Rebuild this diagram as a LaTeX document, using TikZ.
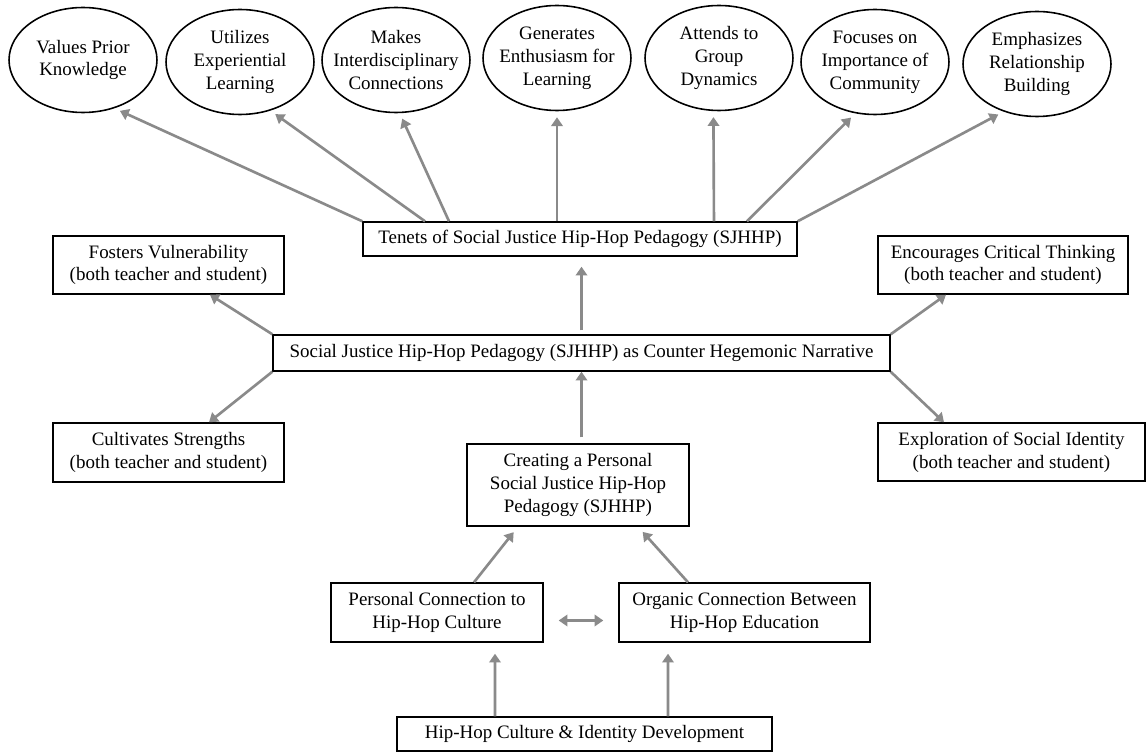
\documentclass[tikz,border=0pt]{standalone}
\usepackage{fontspec}
\setmainfont{Liberation Serif}
\usepackage{xcolor}
\usepackage{tikz}
\usetikzlibrary{shapes.geometric, arrows.meta, positioning}
\definecolor{linkgray}{RGB}{138,138,138}

\begin{document}
\begin{tikzpicture}[x=0.02cm, y=-0.02cm,
  >={Triangle[length=5pt,width=6.5pt]},
  tenet/.style={ellipse, draw, line width=0.9pt, minimum width=2.96cm, minimum height=2.1cm,
    inner xsep=-0.22cm, inner ysep=0pt, align=center, font=\fontsize{10.8}{13}\selectfont},
  box/.style={rectangle, draw, line width=0.8pt, inner sep=0pt, align=center,
    font=\fontsize{10.8}{13}\selectfont},
  link/.style={linkgray, line width=1.5pt, ->}]
\path[use as bounding box, fill=white] (0,0) rectangle (1147,753);

% Tenets
\node[tenet] (prior) at (83,60) {Values Prior\\Knowledge};
\node[tenet] (exper) at (240,62) {Utilizes\\Experiential\\Learning};
\node[tenet] (inter) at (396,60) {Makes\\Interdisciplinary\\Connections};
\node[tenet] (enthu) at (557,58) {Generates\\Enthusiasm for\\Learning};
\node[tenet] (group) at (719,58) {Attends to\\Group\\Dynamics};
\node[tenet] (commu) at (875,62) {Focuses on\\Importance of\\Community};
\node[tenet] (relat) at (1037,64) {Emphasizes\\Relationship\\Building};

\node[box, minimum width=8.68cm, minimum height=0.68cm] (tenets) at (580,239)
  {Tenets of Social Justice Hip-Hop Pedagogy (SJHHP)};

\draw[link, shorten >=0.12cm] (tenets.north west) -- (prior.-57);
\draw[link, shorten >=0.12cm] ([xshift=-3.1cm]tenets.north) -- (exper.-58);
\draw[link, shorten >=0.12cm] ([xshift=-2.62cm]tenets.north) -- (inter.-86);
\draw[link, shorten >=0.12cm] (tenets.north -| enthu) -- (enthu.south);
\draw[link, shorten >=0.12cm] ([xshift=2.68cm]tenets.north) -- (group.-96);
\draw[link, shorten >=0.12cm] ([xshift=3.34cm]tenets.north) -- (commu.-111);
\draw[link, shorten >=0.12cm] (tenets.north east) -- (relat.-125);

% Counter narrative
\node[box, minimum width=12.34cm, minimum height=0.72cm] (narr) at (581.5,353)
  {Social Justice Hip-Hop Pedagogy (SJHHP) as Counter Hegemonic Narrative};
\node[box, minimum width=4.62cm, minimum height=1.16cm] (fost) at (168.5,265)
  {Fosters Vulnerability\\(both teacher and student)};
\node[box, minimum width=5cm, minimum height=1.16cm] (enc) at (1003,265)
  {Encourages Critical Thinking\\(both teacher and student)};
\node[box, minimum width=4.62cm, minimum height=1.18cm] (cult) at (168.5,452.5)
  {Cultivates Strengths\\(both teacher and student)};
\node[box, minimum width=5.34cm, minimum height=1.16cm] (expl) at (1011.5,452)
  {Exploration of Social Identity\\(both teacher and student)};

\draw[link, shorten >=0.2cm, shorten <=0.08cm] (narr.north) -- (narr.north |- tenets.south);
\draw[link] (narr.north west) -- ([xshift=0.83cm]fost.south);
\draw[link] (narr.south west) -- ([xshift=0.81cm]cult.north);
\draw[link] (narr.north east) -- ([xshift=-1.14cm]enc.south);
\draw[link] (narr.south east) -- ([xshift=-1.35cm]expl.north);

% Personal SJHHP
\node[box, minimum width=4.44cm, minimum height=1.64cm] (creat) at (578,485)
  {Creating a Personal\\Social Justice Hip-Hop\\Pedagogy (SJHHP)};
\node[box, minimum width=4.24cm, minimum height=1.18cm] (pers) at (437,612.5)
  {Personal Connection to\\Hip-Hop Culture};
\node[box, minimum width=5.02cm, minimum height=1.18cm] (org) at (744.5,612.5)
  {Organic Connection Between\\Hip-Hop Education};
\node[box, minimum width=7.5cm, minimum height=0.68cm] (hhc) at (584.5,734)
  {Hip-Hop Culture \& Identity Development};

\draw[link, shorten <=0.12cm] (narr.south |- creat.north) -- (narr.south);
\draw[link, shorten >=0.14cm] ([xshift=0.74cm]pers.north) -- ([xshift=-1.2cm]creat.south);
\draw[link, shorten >=0.14cm] ([xshift=-1.13cm]org.north) -- ([xshift=1.2cm]creat.south);
\draw[link, <->, shorten >=0.3cm, shorten <=0.3cm] ([yshift=-0.16cm]pers.east) -- ([yshift=-0.16cm]org.west);
\draw[link, shorten >=0.22cm] ([xshift=-1.79cm]hhc.north) -- ([xshift=1.16cm]pers.south);
\draw[link, shorten >=0.22cm] ([xshift=1.67cm]hhc.north) -- ([xshift=-1.53cm]org.south);
\end{tikzpicture}
\end{document}
